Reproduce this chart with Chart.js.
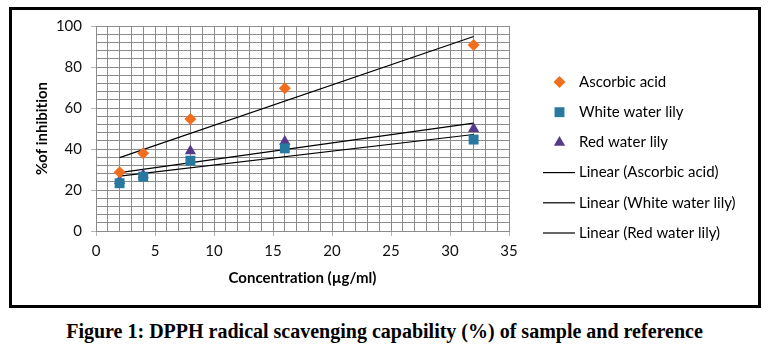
<!DOCTYPE html>
<html><head><meta charset="utf-8">
<script src="https://cdn.jsdelivr.net/npm/chart.js@4.4.1/dist/chart.umd.min.js"></script>
<style>
html,body{margin:0;padding:0;background:#fff;width:769px;height:355px;overflow:hidden}
#box{position:absolute;left:9px;top:7px;width:746px;height:295px;border:3px solid #000;}
#c{position:absolute;left:0;top:0}
#cap{position:absolute;left:0;top:320px;width:769px;text-align:center;font:bold 20px "Liberation Serif","Times New Roman",serif;color:#000;line-height:22px}
</style></head>
<body>
<div id="box"></div>
<canvas id="c" width="769" height="310"></canvas>
<div id="cap">Figure 1: DPPH radical scavenging capability (%) of sample and reference</div>
<script>
const concentrations = [2, 4, 8, 16, 32];
const ascorbicAcid = [28.6, 37.9, 54.6, 69.6, 90.7];
const whiteWaterLily = [23.3, 26.5, 34.3, 40.3, 44.6];
const redWaterLily = [24.5, 27.3, 39.0, 43.6, 49.9];
const seriesNames = ['Ascorbic acid', 'White water lily', 'Red water lily'];
const xTitle = 'Concentration (µg/ml)';
const yTitle = '%of inhibition';

function pts(ys){ return concentrations.map((x,i)=>({x:x, y:ys[i]})); }
function trend(ys){
  const n = concentrations.length;
  const mx = concentrations.reduce((a,b)=>a+b,0)/n;
  const my = ys.reduce((a,b)=>a+b,0)/n;
  let sxy=0, sxx=0;
  for(let i=0;i<n;i++){ sxy+=(concentrations[i]-mx)*(ys[i]-my); sxx+=(concentrations[i]-mx)**2; }
  const b = sxy/sxx, a = my - b*mx;
  const x0 = Math.min(...concentrations), x1 = Math.max(...concentrations);
  return [{x:x0,y:a+b*x0},{x:x1,y:a+b*x1}];
}

const colors = ['#F26E1F', '#2779A0', '#553A8A'];
const styles = ['rectRot', 'rect', 'triangle'];
const radii = [6, 7, 6.5];
const seriesData = [ascorbicAcid, whiteWaterLily, redWaterLily];

const datasets = [];
seriesData.forEach((ys,i)=>{
  datasets.push({label:seriesNames[i], data:pts(ys), pointStyle:styles[i], pointRadius:radii[i],
    backgroundColor:colors[i], borderColor:colors[i], borderWidth:0, showLine:false});
});
seriesData.forEach((ys,i)=>{
  datasets.push({label:'Linear ('+seriesNames[i]+')', data:trend(ys), showLine:true, pointRadius:0,
    borderColor:'#000', borderWidth:1.2, backgroundColor:'#000', fill:false});
});

const noLigPlugin = {
  id:'noLig',
  beforeDraw(chart){ try{ chart.ctx.textRendering = 'optimizeSpeed'; }catch(e){} }
};

const legendPlugin = {
  id:'customLegend',
  afterDraw(chart){
    const ctx = chart.ctx;
    ctx.save();
    ctx.font = '15px Lato';
    ctx.textBaseline = 'middle';
    ctx.textAlign = 'left';
    chart.data.datasets.forEach((ds,i)=>{
      const y = 82 + 30.2*i;
      const mx = 559.5;
      ctx.fillStyle = ds.backgroundColor;
      ctx.strokeStyle = ds.borderColor;
      if(ds.showLine){
        ctx.lineWidth = 1.2;
        ctx.beginPath(); ctx.moveTo(543, y); ctx.lineTo(575, y); ctx.stroke();
      } else {
        const r = ds.pointRadius;
        ctx.beginPath();
        if(ds.pointStyle==='rectRot'){
          ctx.moveTo(mx, y-r); ctx.lineTo(mx+r, y); ctx.lineTo(mx, y+r); ctx.lineTo(mx-r, y); ctx.closePath();
        } else if(ds.pointStyle==='rect'){
          const s = r*Math.SQRT1_2; ctx.rect(mx-s, y-s, 2*s, 2*s);
        } else {
          ctx.moveTo(mx, y-r); ctx.lineTo(mx+r*Math.sin(2*Math.PI/3), y-r*Math.cos(2*Math.PI/3));
          ctx.lineTo(mx+r*Math.sin(4*Math.PI/3), y-r*Math.cos(4*Math.PI/3)); ctx.closePath();
        }
        ctx.fill();
      }
      ctx.fillStyle = '#000';
      ctx.fillText(ds.label, 579, y);
    });
    ctx.restore();
  }
};

new Chart(document.getElementById('c'), {
  type:'scatter',
  data:{datasets:datasets},
  options:{
    responsive:false, animation:false, devicePixelRatio:1,
    layout:{padding:{left:33, right:260, top:26, bottom:19}},
    plugins:{legend:{display:false}, tooltip:{enabled:false}},
    scales:{
      x:{type:'linear', min:0, max:35,
        afterFit(s){ s.height = 60; },
        ticks:{stepSize:1, autoSkip:false, maxRotation:0, minRotation:0, padding:6, color:'#111',
          font:{family:'Lato', size:15}, callback:v=> (v%5===0 ? String(v) : '')},
        grid:{color:'#8c8c8c', lineWidth:1, tickLength:5,
          tickColor:c=> (c.tick && c.tick.value%5===0 ? '#b5b5b5' : 'rgba(0,0,0,0)')},
        border:{color:'#8c8c8c'},
        title:{display:true, text:xTitle, color:'#000', font:{family:'Lato', size:15, weight:'bold'}, padding:{top:0, bottom:4}}
      },
      y:{min:0, max:100,
        afterFit(s){ s.width = 63; },
        ticks:{stepSize:4, autoSkip:false, padding:9, color:'#111',
          font:{family:'Lato', size:15}, callback:v=> (v%20===0 ? String(v) : '')},
        grid:{color:'#8c8c8c', lineWidth:1, tickLength:5,
          tickColor:c=> (c.tick && c.tick.value%20===0 ? '#b5b5b5' : 'rgba(0,0,0,0)')},
        border:{color:'#8c8c8c'},
        title:{display:true, text:yTitle, color:'#000', font:{family:'Lato', size:15, weight:'bold'}, padding:{top:0, bottom:0}}
      }
    }
  },
  plugins:[noLigPlugin, legendPlugin]
});
</script>
</body></html>
